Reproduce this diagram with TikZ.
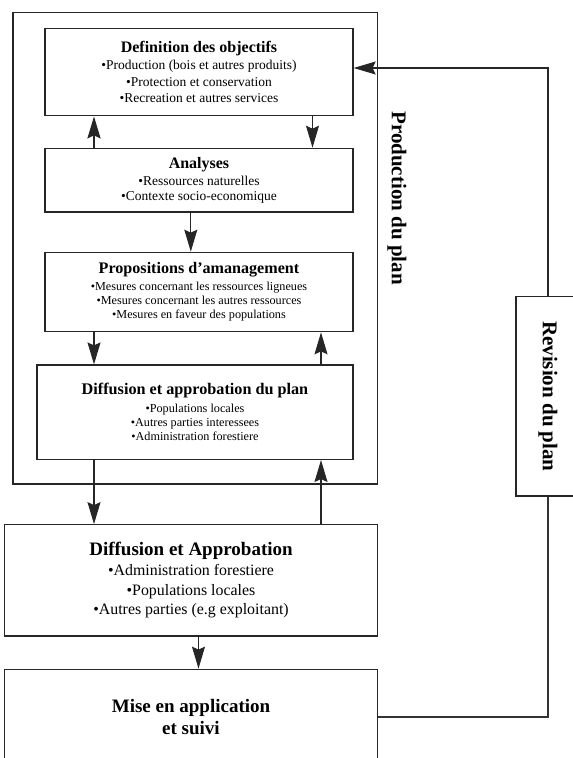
\documentclass[tikz,border=0pt]{standalone}
\usepackage{fontspec}
\setmainfont{Liberation Serif}
\usetikzlibrary{arrows.meta}
\tikzset{
  box/.style={draw=black!85, line width=1.3pt, align=center, inner sep=0pt},
  arr/.style={draw=black!85, line width=1.1pt, -{Stealth[length=22pt,width=13pt,inset=3pt]}},
  link/.style={draw=black!80, line width=1.1pt},
  vlabel/.style={rotate=-90, font=\fontsize{21}{21}\selectfont\bfseries},
}
\newcommand{\titre}[2]{{\fontsize{#1}{#1}\selectfont\bfseries #2}}
\begin{document}
\begin{tikzpicture}[x=1pt,y=-1pt]
      \useasboundingbox (0,0) rectangle (573,758);
      \clip (0,0) rectangle (573,758);
      % cadre production du plan
      \node[box, minimum width=364.6pt, minimum height=471.3pt] (prod) at (195.3,248.4) {};
      \node[vlabel] (prodlbl) at (397,198) {Production du plan};
      % etapes
      \node[box, minimum width=308pt, minimum height=87.4pt, font=\fontsize{13.5}{16.2}\selectfont] (obj) at (199,72)
        {\titre{16}{Definition des objectifs}\\[1pt] •Production (bois et autres produits)\\ •Protection et conservation\\ •Recreation et autres services};
      \node[box, minimum width=308pt, minimum height=63.7pt, font=\fontsize{13.5}{14.7}\selectfont] (ana) at (199,180.2)
        {\titre{16}{Analyses}\\[3pt] •Ressources naturelles\\ •Contexte socio-economique};
      \node[box, minimum width=308pt, minimum height=79.4pt, font=\fontsize{12.2}{14.1}\selectfont] (prop) at (199,292)
        {\titre{16.1}{Propositions d’amanagement}\\[3pt] •Mesures concernant les ressources ligneues\\ •Mesures concernant les autres ressources\\ •Mesures en faveur des populations};
      \node[box, minimum width=316pt, minimum height=94.3pt, font=\fontsize{12.2}{14.3}\selectfont] (diff) at (195,412.2)
        {\titre{16.2}{Diffusion et approbation du plan}\\[3pt] •Populations locales\\ •Autres parties interessees\\ •Administration forestiere};
      \node[box, minimum width=373.2pt, minimum height=111.3pt, font=\fontsize{15.9}{19.5}\selectfont] (appr) at (191,580.4)
        {\titre{19}{Diffusion et Approbation}\\[0.5pt] •Administration forestiere\\ •Populations locales\\ •Autres parties (e.g exploitant)};
      \node[box, minimum width=373.2pt, minimum height=95.4pt, font=\fontsize{19}{22.3}\selectfont\bfseries] (mise) at (191,717)
        {Mise en application\\ et suivi};
      % revision
      \node[box, minimum width=64pt, minimum height=199.3pt] (rev) at (548,396.4) {};
      \node[vlabel] (revlbl) at (rev) {Revision du plan};
      % fleches
      \draw[arr, line width=2.2pt] (ana.north -| 94,0) -- (obj.south -| 94,0);
      \draw[arr] (obj.south -| 312.5,0) -- (ana.north -| 312.5,0);
      \draw[arr] (ana.south -| 190.8,0) -- (prop.north -| 190.8,0);
      \draw[arr] (prop.south -| 94,0) -- (diff.north -| 94,0);
      \draw[arr] (diff.north -| 321,0) -- (prop.south -| 321,0);
      \draw[arr] (diff.south -| 94,0) -- (appr.north -| 94,0);
      \draw[arr] (appr.north -| 321,0) -- (diff.south -| 321,0);
      \draw[arr] (appr.south -| 198.5,0) -- (mise.north -| 198.5,0);
      \draw[link] (mise.east) -| (rev.south);
      \draw[arr] (rev.north) |- (obj.east |- 0,68);
\end{tikzpicture}
\end{document}
